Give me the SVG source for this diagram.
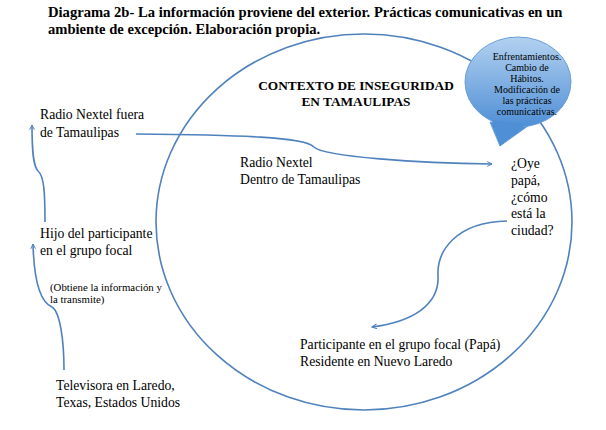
<svg xmlns="http://www.w3.org/2000/svg" width="606" height="430" viewBox="0 0 606 430">
<defs>
<marker id="ah" viewBox="0 0 10 10" refX="9" refY="5" markerWidth="6" markerHeight="6" orient="auto" markerUnits="userSpaceOnUse">
<path d="M1,1 L9,5 L1,9" fill="none" stroke="#4f81bd" stroke-width="1.6"/>
</marker>
<linearGradient id="bg" x1="0" y1="0" x2="0" y2="1">
<stop offset="0" stop-color="#b3d1f0"/>
<stop offset="1" stop-color="#4f8fd6"/>
</linearGradient>
</defs>
<rect width="606" height="430" fill="#fff"/>
<g font-family="Liberation Serif" fill="#000">
<g id="title" font-size="14.6" font-weight="bold">
<text x="48" y="17">Diagrama 2b- La información proviene del exterior. Prácticas comunicativas en un</text>
<text x="48" y="34">ambiente de excepción. Elaboración propia.</text>
</g>
<g id="contexto">
<ellipse cx="364" cy="222" rx="208" ry="188" fill="none" stroke="#4f81bd" stroke-width="1.6"/>
<text x="356" y="90" text-anchor="middle" font-size="13.3" font-weight="bold">CONTEXTO DE INSEGURIDAD</text>
<text x="356" y="106" text-anchor="middle" font-size="13.3" font-weight="bold">EN TAMAULIPAS</text>
</g>
<g id="bubble">
<path d="M490,122 L500,146 L528,126 Z" fill="#4f8fd6" stroke="#6a9fd8" stroke-width="1"/>
<ellipse cx="518" cy="82" rx="53" ry="45" fill="url(#bg)" stroke="#6a9fd8" stroke-width="1"/>
<path d="M492,120 L500,146 L526,124" fill="#4f8fd6" stroke="none"/>
<g text-anchor="middle" font-size="10">
<text x="527" y="60">Enfrentamientos.</text>
<text x="527" y="71">Cambio de</text>
<text x="527" y="82">Hábitos.</text>
<text x="527" y="93">Modificación de</text>
<text x="527" y="104">las prácticas</text>
<text x="527" y="115">comunicativas.</text>
</g>
</g>
<g font-size="13.7">
<g id="radio-fuera"><text x="40" y="119">Radio Nextel fuera</text><text x="40" y="137">de Tamaulipas</text></g>
<g id="hijo"><text x="40" y="238">Hijo del participante</text><text x="40" y="255">en el grupo focal</text></g>
<g id="televisora"><text x="56" y="390">Televisora en Laredo,</text><text x="56" y="407">Texas, Estados Unidos</text></g>
<g id="radio-dentro"><text x="240" y="167">Radio Nextel</text><text x="240" y="184">Dentro de Tamaulipas</text></g>
<g id="oye">
<text x="511" y="168">¿Oye</text>
<text x="511" y="185">papá,</text>
<text x="511" y="202">¿cómo</text>
<text x="511" y="218">está la</text>
<text x="511" y="235">ciudad?</text>
</g>
<g id="participante"><text x="300" y="349">Participante en el grupo focal (Papá)</text><text x="300" y="366">Residente en Nuevo Laredo</text></g>
</g>
<g id="obtiene" font-size="10.8"><text x="50" y="291">(Obtiene la información  y</text><text x="50" y="303">la transmite)</text></g>
</g>
<g id="connectors" fill="none" stroke="#4f81bd" stroke-width="1.6">
<path d="M136,134 C240,135 305,137 314,147 C324,157 420,163 492,164" marker-end="url(#ah)"/>
<path d="M507,221 C455,222 437,252 438,275 C440,305 412,322 372,327" marker-end="url(#ah)"/>
<path d="M64,370 C64,340 60,312 52,307 C40,302 34,282 33,244" marker-end="url(#ah)"/>
<path d="M45,222 C45,192 44,176 38,171 C33,166 32,150 32,125" marker-end="url(#ah)"/>
</g>
</svg>
